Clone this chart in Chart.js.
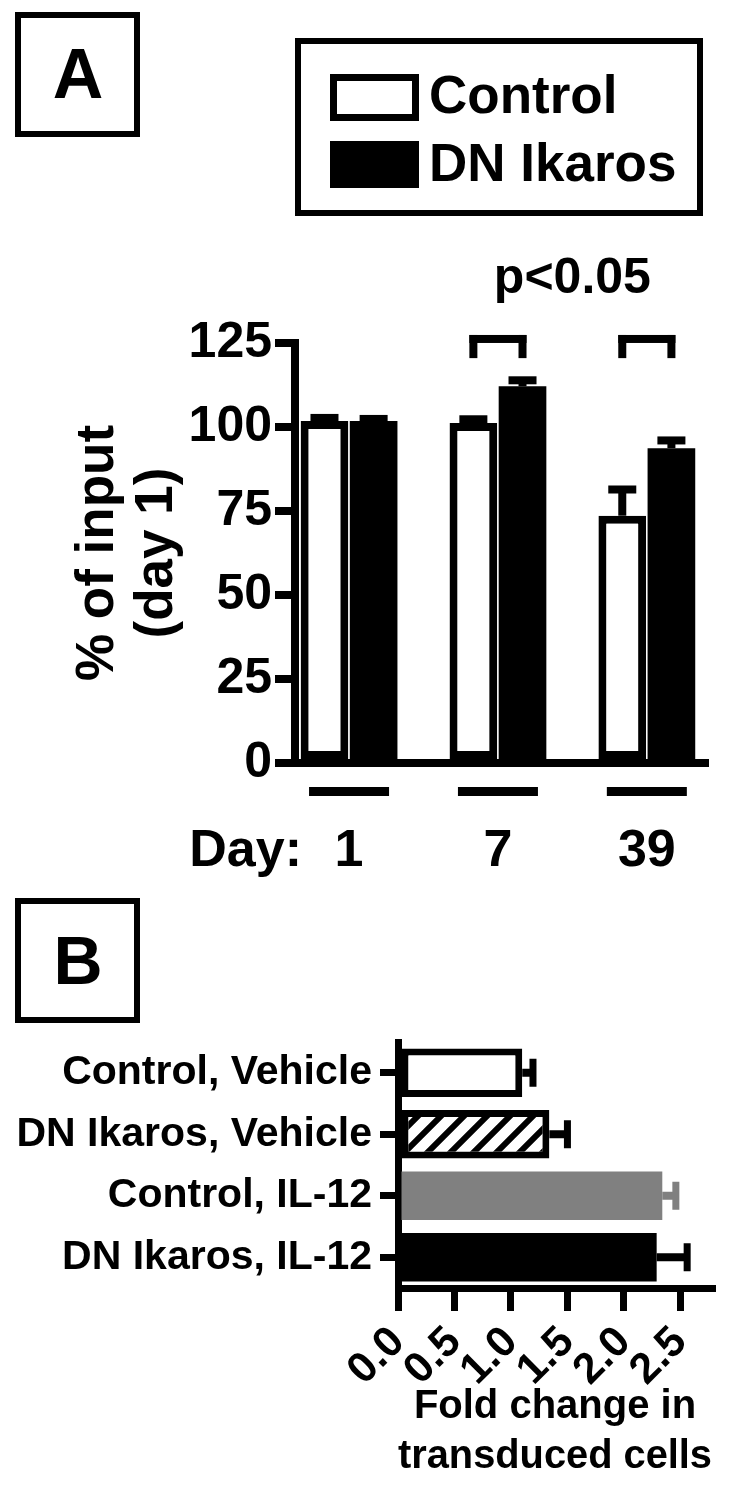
<!DOCTYPE html>
<html>
<head>
<meta charset="utf-8">
<script src="https://cdn.jsdelivr.net/npm/chart.js@4.4.1/dist/chart.umd.min.js"></script>
<style>
  body { margin: 0; background: #fff; width: 735px; height: 1485px; overflow: hidden; }
  #wrapA { position: absolute; left: 0; top: 0; }
  #wrapB { position: absolute; left: 0; top: 890px; }
</style>
</head>
<body>
<div id="wrapA"><canvas id="chartA" width="735" height="890"></canvas></div>
<div id="wrapB"><canvas id="chartB" width="735" height="595"></canvas></div>
<script>
// panel A - % of input (day 1)
const days = ['1', '7', '39'];
const controlPct = [101.8, 101.2, 73.6];
const controlErr = [0.9, 1.1, 7.8];
const dnPct = [101.8, 112.1, 93.7];
const dnErr = [0.6, 1.8, 2.3];
const yTicksA = [0, 25, 50, 75, 100, 125];
const sigGroups = [1, 2];   // days marked p<0.05

// panel B - fold change in transduced cells
const treatments = ['Control, Vehicle', 'DN Ikaros, Vehicle', 'Control, IL-12', 'DN Ikaros, IL-12'];
const foldChange = [1.10, 1.34, 2.34, 2.29];
const foldErr = [0.095, 0.16, 0.12, 0.27];
const foldTicks = ['0.0', '0.5', '1.0', '1.5', '2.0', '2.5'];

const FONT = "'Liberation Sans', Arial, Helvetica, sans-serif";
Chart.defaults.font.family = FONT;
Chart.defaults.font.weight = 'bold';
Chart.defaults.color = '#000';

// hatch for DN Ikaros, Vehicle
function makeHatch() {
    const p = 23;
    const c = document.createElement('canvas');
    c.width = p; c.height = p;
    const g = c.getContext('2d');
    g.fillStyle = '#fff';
    g.fillRect(0, 0, p, p);
    g.strokeStyle = '#000';
    g.lineWidth = 6;
    g.beginPath();
    g.moveTo(0, p); g.lineTo(p, 0);
    g.moveTo(-p / 2, p / 2); g.lineTo(p / 2, -p / 2);
    g.moveTo(p / 2, p * 1.5); g.lineTo(p * 1.5, p / 2);
    g.stroke();
    return g.createPattern(c, 'repeat');
}

function panelLetter(ctx, letter, x, y, size) {
    ctx.save();
    ctx.lineWidth = 6;
    ctx.strokeStyle = '#000';
    ctx.strokeRect(x, y, 119, 119);
    ctx.fillStyle = '#000';
    ctx.font = 'bold ' + size + 'px ' + FONT;
    ctx.textAlign = 'center';
    ctx.textBaseline = 'alphabetic';
    ctx.fillText(letter, x + 60, y + 83);
    ctx.restore();
}

// error bars, brackets, underlines and legend for panel A
const extrasA = {
    id: 'extrasA',
    afterDatasetsDraw(chart) {
        const ctx = chart.ctx;
        const y = chart.scales.y;
        ctx.save();
        ctx.fillStyle = '#000';
        chart.data.datasets.forEach((ds, d) => {
            chart.getDatasetMeta(d).data.forEach((bar, i) => {
                const top = y.getPixelForValue(ds.data[i].y + ds.err[i]);
                ctx.fillRect(bar.x - 4, top, 8, bar.y - top);
                ctx.fillRect(bar.x - 14, top - 4, 28, 8);
            });
        });
        ctx.restore();
    },
    afterDraw(chart) {
        const ctx = chart.ctx;
        const x = chart.scales.x;
        const y = chart.scales.y;
        const area = chart.chartArea;
        ctx.save();
        ctx.fillStyle = '#000';
        ctx.strokeStyle = '#000';

        // group underlines
        days.forEach((d, i) => {
            const cx = x.getPixelForValue(i);
            ctx.fillRect(cx - 40, area.bottom + 24, 80, 9);
        });

        // "Day:" in front of the tick labels
        const tf = x.options.ticks.font;
        ctx.font = 'bold ' + tf.size + 'px ' + FONT;
        ctx.textAlign = 'right';
        ctx.textBaseline = 'middle';
        ctx.fillText('Day:', 302, area.bottom + x.options.ticks.padding + tf.size * 1.2 / 2);

        // significance brackets
        const m0 = chart.getDatasetMeta(0).data;
        const m1 = chart.getDatasetMeta(1).data;
        const yb = y.getPixelForValue(126.2);
        const yl = y.getPixelForValue(120.5);
        const mids = [];
        sigGroups.forEach(i => {
            const a = m0[i].x, b = m1[i].x;
            ctx.fillRect(a - 4, yb - 4, b - a + 8, 8);
            ctx.fillRect(a - 4, yb - 4, 8, yl - yb + 4);
            ctx.fillRect(b - 4, yb - 4, 8, yl - yb + 4);
            mids.push((a + b) / 2);
        });
        ctx.font = 'bold 50px ' + FONT;
        ctx.textAlign = 'center';
        ctx.textBaseline = 'alphabetic';
        ctx.fillText('p<0.05', (mids[0] + mids[mids.length - 1]) / 2, 293);

        // legend
        ctx.lineWidth = 6;
        ctx.strokeRect(298, 41, 402, 172);
        chart.data.datasets.forEach((ds, i) => {
            const sy = 74 + i * 67;
            ctx.fillStyle = ds.backgroundColor;
            ctx.fillRect(330, sy, 89, 47);
            if (ds.borderWidth) {
                ctx.lineWidth = 7;
                ctx.strokeStyle = ds.borderColor;
                ctx.strokeRect(333.5, sy + 3.5, 82, 40);
            }
            ctx.fillStyle = '#000';
            ctx.font = 'bold 53px ' + FONT;
            ctx.textAlign = 'left';
            ctx.fillText(ds.label, 429, 113 + i * 68);
        });
        ctx.restore();

        panelLetter(ctx, 'A', 18, 15, 70);
    }
};

const chartA = new Chart(document.getElementById('chartA'), {
    type: 'bar',
    data: {
        datasets: [{
            label: 'Control',
            data: controlPct.map((v, i) => ({ x: i, y: v })),
            err: controlErr,
            backgroundColor: '#ffffff',
            borderColor: '#000000',
            borderWidth: 8,
            borderSkipped: false
        }, {
            label: 'DN Ikaros',
            data: dnPct.map((v, i) => ({ x: i, y: v })),
            err: dnErr,
            backgroundColor: '#000000',
            borderColor: '#000000',
            borderWidth: 0
        }]
    },
    options: {
        responsive: false,
        animation: false,
        layout: { padding: { top: 343, right: 15, bottom: 0, left: 0 } },
        plugins: { legend: { display: false }, tooltip: { enabled: false } },
        datasets: { bar: { categoryPercentage: 0.66, barPercentage: 0.97 } },
        scales: {
            x: {
                type: 'linear',
                min: -0.363,
                max: 2.415,
                offset: false,
                z: 1,
                afterBuildTicks: s => { s.ticks = days.map((d, i) => ({ value: i })); },
                ticks: {
                    callback: v => days[v],
                    font: { size: 52, weight: 'bold' },
                    color: '#000',
                    padding: 57,
                    maxRotation: 0,
                    autoSkip: false
                },
                grid: { display: false, drawTicks: false },
                border: { display: true, width: 8, color: '#000' },
                afterFit: s => { s.height = 890 - 763; }
            },
            y: {
                min: 0,
                max: 125,
                z: 1,
                afterBuildTicks: s => { s.ticks = yTicksA.map(v => ({ value: v })); },
                ticks: { font: { size: 50, weight: 'bold' }, color: '#000', padding: 3 },
                grid: { drawOnChartArea: false, drawTicks: true, tickLength: 20, lineWidth: 8, tickWidth: 8, color: '#000' },
                border: { display: true, width: 8, color: '#000' },
                title: {
                    display: true,
                    text: ['% of input', '(day 1)'],
                    color: '#000',
                    font: { size: 53, weight: 'bold', lineHeight: 1.13 },
                    padding: { top: 68, bottom: 0 }
                },
                afterFit: s => { s.width = 295; }
            }
        }
    },
    plugins: [extrasA]
});

// error bars and letter for panel B
const extrasB = {
    id: 'extrasB',
    afterDatasetsDraw(chart) {
        const ctx = chart.ctx;
        const x = chart.scales.x;
        const ds = chart.data.datasets[0];
        ctx.save();
        chart.getDatasetMeta(0).data.forEach((bar, i) => {
            const end = x.getPixelForValue(ds.data[i] + ds.err[i]);
            ctx.fillStyle = ds.errColor[i];
            ctx.fillRect(bar.x, bar.y - 4, end - bar.x, 8);
            ctx.fillRect(end - 3.5, bar.y - 14, 7, 28);
        });
        ctx.restore();
    },
    afterDraw(chart) {
        panelLetter(chart.ctx, 'B', 18, 11, 68);
    }
};

const chartB = new Chart(document.getElementById('chartB'), {
    type: 'bar',
    data: {
        labels: treatments,
        datasets: [{
            data: foldChange,
            err: foldErr,
            backgroundColor: ['#ffffff', makeHatch(), '#808080', '#000000'],
            borderColor: ['#000000', '#000000', '#808080', '#000000'],
            errColor: ['#000000', '#000000', '#808080', '#000000'],
            borderWidth: [7, 7, 0, 0],
            borderSkipped: false
        }]
    },
    options: {
        indexAxis: 'y',
        responsive: false,
        animation: false,
        layout: { padding: { top: 152, right: 23, bottom: 0, left: 0 } },
        plugins: { legend: { display: false }, tooltip: { enabled: false } },
        datasets: { bar: { categoryPercentage: 1, barPercentage: 0.79 } },
        scales: {
            y: {
                z: 1,
                ticks: { font: { size: 41, weight: 'bold' }, color: '#000', padding: 8 },
                grid: { offset: false, drawOnChartArea: false, tickLength: 18, lineWidth: 7, tickWidth: 7, color: '#000' },
                border: { display: true, width: 7, color: '#000' },
                afterFit: s => { s.width = 398; }
            },
            x: {
                type: 'linear',
                min: 0,
                max: 2.78,
                z: 1,
                afterBuildTicks: s => { s.ticks = foldTicks.map(t => ({ value: parseFloat(t) })); },
                ticks: {
                    callback: (v, i) => foldTicks[i],
                    font: { size: 43, weight: 'bold' },
                    color: '#000',
                    minRotation: 45,
                    maxRotation: 45,
                    padding: 6,
                    autoSkip: false
                },
                grid: { drawOnChartArea: false, tickLength: 23, lineWidth: 7, tickWidth: 7, color: '#000' },
                border: { display: true, width: 7, color: '#000' },
                title: {
                    display: true,
                    text: ['Fold change in', 'transduced cells'],
                    color: '#000',
                    font: { size: 40, weight: 'bold', lineHeight: 1.25 },
                    padding: { top: 0, bottom: 3 }
                },
                afterFit: s => { s.height = 595 - 398; }
            }
        }
    },
    plugins: [extrasB]
});
</script>
</body>
</html>
